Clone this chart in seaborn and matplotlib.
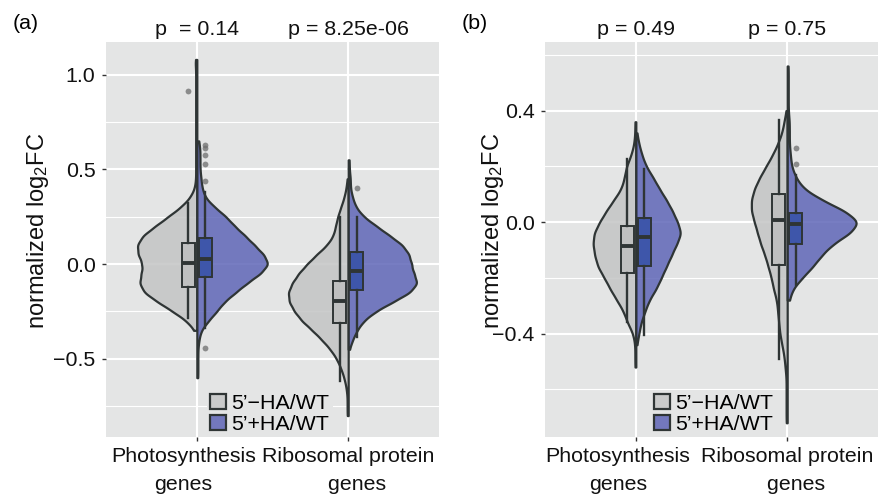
import numpy as np
import pandas as pd
import matplotlib
matplotlib.use("Agg")
import matplotlib.pyplot as plt
import matplotlib.transforms as mtransforms
import seaborn as sns
from matplotlib.patches import Patch

# ---------------- data ----------------
categories = ["Photosynthesis\ngenes", "Ribosomal protein\ngenes"]
tick_labels = ["Photosynthesis\ngenes", "Ribosomal protein\n   genes"]
groups = ["5’−HA/WT", "5’+HA/WT"]
panel_labels = ["(a)", "(b)"]
p_text_a = ["p  = 0.14", "p = 8.25e-06"]
p_text_b = ["p = 0.49", "p = 0.75"]

# normalized log2FC levels and number of genes read at each level (panel a)
levels_a = [-0.80, -0.75, -0.70, -0.65, -0.60, -0.55, -0.50, -0.45, -0.40, -0.35,
            -0.30, -0.25, -0.20, -0.15, -0.10, -0.05, 0.00, 0.05, 0.10, 0.15,
            0.20, 0.25, 0.30, 0.35, 0.40, 0.45, 0.50, 0.55, 0.60, 0.65,
            0.70, 0.75, 0.80, 0.85, 0.90, 0.95, 1.00, 1.05, 1.08]
photo_minus_a = [0, 0, 0, 0, 0, 0, 0, 0, 0, 2,
                 9, 21, 34, 46, 50, 48, 47, 51, 52, 47,
                 36, 25, 14, 6, 2, 1, 1, 1, 1, 1,
                 1, 1, 1, 1, 1, 1, 1, 1, 1]
photo_plus_a = [0, 0, 0, 0, 1, 1, 1, 1, 2, 4,
                11, 19, 26, 37, 48, 61, 69, 64, 55, 46,
                36, 28, 17, 8, 5, 4, 3, 3, 3, 2,
                0, 0, 0, 0, 0, 0, 0, 0, 0]
ribo_minus_a = [1, 1, 1, 2, 4, 7, 11, 17, 25, 34,
                44, 51, 56, 57, 53, 47, 39, 30, 20, 14,
                12, 10, 7, 4, 2, 1, 0, 0, 0, 0,
                0, 0, 0, 0, 0, 0, 0, 0, 0]
ribo_plus_a = [0, 0, 0, 0, 0, 0, 0, 1, 4, 8,
               14, 25, 41, 57, 64, 60, 58, 56, 50, 38,
               26, 14, 7, 4, 2, 2, 1, 1, 0, 0,
               0, 0, 0, 0, 0, 0, 0, 0, 0]

# panel b
levels_b = [-0.72, -0.68, -0.64, -0.60, -0.56, -0.52, -0.48, -0.44, -0.40, -0.36,
            -0.32, -0.28, -0.24, -0.20, -0.16, -0.12, -0.08, -0.04, 0.00, 0.04,
            0.08, 0.12, 0.16, 0.20, 0.24, 0.28, 0.32, 0.36, 0.40, 0.44,
            0.48, 0.52, 0.56, 0.60]
photo_minus_b = [0, 0, 0, 0, 0, 1, 1, 1, 3, 9,
                 13, 20, 27, 33, 40, 43, 45, 44, 38, 31,
                 23, 15, 12, 10, 5, 2, 1, 1, 0, 0,
                 0, 0, 0, 0]
photo_plus_b = [0, 0, 0, 0, 0, 0, 0, 1, 3, 5,
                9, 13, 20, 25, 30, 35, 40, 45, 41, 36,
                30, 23, 17, 10, 6, 3, 1, 0, 0, 0,
                0, 0, 0, 0]
ribo_minus_b = [1, 1, 1, 1, 1, 2, 3, 5, 7, 8,
                9, 10, 13, 15, 18, 21, 25, 28, 31, 34,
                34, 31, 26, 20, 14, 9, 5, 3, 1, 0,
                0, 0, 0, 0]
ribo_plus_b = [0, 0, 0, 0, 0, 0, 0, 0, 0, 0,
               0, 2, 5, 14, 24, 32, 42, 59, 68, 54,
               32, 15, 8, 4, 3, 2, 2, 2, 1, 1,
               1, 1, 1, 0]

# boxplot statistics [category][group]
q1_a = [[-0.123, -0.070], [-0.310, -0.137]]
med_a = [[0.007, 0.025], [-0.194, -0.037]]
q3_a = [[0.109, 0.136], [-0.088, 0.065]]
whislo_a = [[-0.287, -0.340], [-0.620, -0.384]]
whishi_a = [[0.320, 0.380], [0.250, 0.250]]
fliers_a = [[[0.915], [0.628, 0.615, 0.575, 0.526, 0.438, -0.445]], [[], [0.400]]]

q1_b = [[-0.184, -0.157], [-0.154, -0.077]]
med_b = [[-0.085, -0.053], [0.007, -0.007]]
q3_b = [[-0.013, 0.013], [0.100, 0.033]]
whislo_b = [[-0.360, -0.405], [-0.490, -0.226]]
whishi_b = [[0.228, 0.190], [0.366, 0.169]]
fliers_b = [[[], []], [[], [0.264, 0.208]]]

yticks_a = [-0.5, 0.0, 0.5, 1.0]
yticks_b = [-0.4, 0.0, 0.4]
yminor_a = [-0.75, -0.25, 0.25, 0.75]
yminor_b = [-0.6, -0.2, 0.2, 0.6]
ylim_a = (-0.913, 1.172)
ylim_b = (-0.771, 0.646)

# ---------------- style ----------------
BG = "#E4E5E5"
EDGE = "#2F3535"
VIOLIN_COLORS = ["#C4C5C5", "#5F66B8"]
VIOLIN_ALPHA = 0.85
KEY_COLORS = ["#C9CACA", "#7378BD"]
BOX_COLORS = ["#BFC0C0", "#3E56AA"]
FS = 15.4

plt.rcParams["font.family"] = ["Liberation Sans", "DejaVu Sans"]
plt.rcParams["mathtext.fontset"] = "custom"
plt.rcParams["mathtext.rm"] = "Liberation Sans"
plt.rcParams["mathtext.it"] = "Liberation Sans:italic"
plt.rcParams["axes.unicode_minus"] = True


def build_frame(levels, counts_by_cat):
    parts = []
    for cat, per_group in zip(categories, counts_by_cat):
        for grp, counts in zip(groups, per_group):
            vals = np.repeat(np.asarray(levels, float), np.asarray(counts, int))
            parts.append(pd.DataFrame({"category": cat, "group": grp, "log2fc": vals}))
    return pd.concat(parts, ignore_index=True)


def draw_panel(fig, ax, df, bw, width, q1, med, q3, wlo, whi, fl, yticks, yminor, ylim,
               ptexts, legend_x, label_x, first_label_shift):
    ax.set_facecolor(BG)
    for s in ax.spines.values():
        s.set_visible(False)
    ax.set_axisbelow(True)

    sns.violinplot(data=df, x="category", y="log2fc", hue="group",
                   order=categories, hue_order=groups, split=True, inner=None,
                   cut=0, density_norm="area", common_norm=True,
                   bw_method=lambda k: bw / np.std(k.dataset, ddof=1),
                   gridsize=400, width=width, palette=VIOLIN_COLORS,
                   saturation=1, linewidth=1.6, linecolor=EDGE,
                   legend=False, ax=ax)
    for coll in ax.collections:
        fc = coll.get_facecolor()
        if len(fc):
            fc[:, 3] = VIOLIN_ALPHA
            coll.set_facecolor(fc)

    offsets = [-0.056, 0.056]
    for gi in range(2):
        stats = []
        for ci in range(2):
            stats.append(dict(q1=q1[ci][gi], med=med[ci][gi], q3=q3[ci][gi],
                              whislo=wlo[ci][gi], whishi=whi[ci][gi],
                              fliers=np.asarray(fl[ci][gi], float)))
        ax.bxp(stats, positions=[ci + offsets[gi] for ci in range(2)],
               widths=0.085, patch_artist=True, showcaps=False,
               manage_ticks=False, zorder=4,
               boxprops=dict(facecolor=BOX_COLORS[gi], edgecolor=EDGE, linewidth=1.4),
               medianprops=dict(color=EDGE, linewidth=2.8, solid_capstyle="butt"),
               whiskerprops=dict(color=EDGE, linewidth=1.7),
               flierprops=dict(marker="o", markersize=4.2, markerfacecolor="#6E6E6E",
                               markeredgecolor="none", alpha=0.75))

    ax.set_xlim(-0.6, 1.6)
    ax.set_ylim(*ylim)
    ax.set_yticks(yticks)
    ax.set_yticks(yminor, minor=True)
    ax.set_xticks([0, 1])
    ax.set_xticklabels(tick_labels, linespacing=1.55)
    ax.grid(True, which="major", color="white", linewidth=1.5)
    ax.grid(True, which="minor", axis="y", color="white", linewidth=0.8)
    ax.tick_params(axis="both", which="major", length=3, width=1.0, color="#333333",
                   labelsize=FS, labelcolor="#111111")
    ax.tick_params(axis="y", which="minor", length=0)
    ax.tick_params(axis="y", pad=4.5)
    ax.tick_params(axis="x", pad=4.5)
    lab0 = ax.get_xticklabels()[0]
    lab0.set_transform(lab0.get_transform() +
                       mtransforms.ScaledTranslation(first_label_shift / 100, 0,
                                                     fig.dpi_scale_trans))
    ax.set_xlabel("")
    ax.set_ylabel("normalized log$_2$FC", fontsize=17, color="#111111")
    ax.yaxis.set_label_coords(label_x, 0.523)

    for ci, t in enumerate(ptexts):
        ax.text(ci, 1.0177, t, transform=ax.get_xaxis_transform(), ha="center",
                va="baseline", fontsize=FS, color="#111111")

    handles = [Patch(facecolor=KEY_COLORS[i], edgecolor=EDGE, linewidth=1.6, label=groups[i])
               for i in range(2)]
    leg = ax.legend(handles=handles, loc="lower left", bbox_to_anchor=(legend_x, 0.0),
                    frameon=True, fancybox=False, fontsize=FS, handlelength=0.75,
                    handleheight=0.7, handletextpad=0.25, labelspacing=0.1,
                    borderpad=0.15, borderaxespad=0.0)
    leg.get_frame().set_facecolor(BG)
    leg.get_frame().set_edgecolor("none")
    leg.get_frame().set_alpha(1)
    leg.set_zorder(6)


fig = plt.figure(figsize=(8.81, 4.94), dpi=100)
W, H = 881, 494
ax_a = fig.add_axes([106 / W, 57 / H, 333 / W, 395 / H])
ax_b = fig.add_axes([545 / W, 57 / H, 333 / W, 395 / H])

df_a = build_frame(levels_a, [[photo_minus_a, photo_plus_a], [ribo_minus_a, ribo_plus_a]])
df_b = build_frame(levels_b, [[photo_minus_b, photo_plus_b], [ribo_minus_b, ribo_plus_b]])

draw_panel(fig, ax_a, df_a, 0.029, 0.93, q1_a, med_a, q3_a, whislo_a, whishi_a, fliers_a,
           yticks_a, yminor_a, ylim_a, p_text_a, 0.303, -0.165, -13.5)
draw_panel(fig, ax_b, df_b, 0.024, 0.91, q1_b, med_b, q3_b, whislo_b, whishi_b, fliers_b,
           yticks_b, yminor_b, ylim_b, p_text_b, 0.318, -0.117, -18.0)

fig.text(13 / W, 1 - 28.6 / H, panel_labels[0], fontsize=FS, va="baseline", ha="left")
fig.text(462 / W, 1 - 28.6 / H, panel_labels[1], fontsize=FS, va="baseline", ha="left")

fig.savefig("out.png", dpi=100, facecolor="white")
